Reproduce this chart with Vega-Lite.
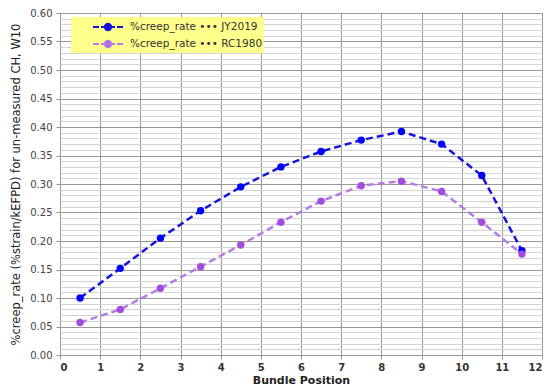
{
  "$schema": "https://vega.github.io/schema/vega-lite/v6.json",
  "width": 482,
  "height": 342,
  "autosize": "none",
  "padding": {"left": 60, "top": 13, "right": 8, "bottom": 35},
  "background": "white",
  "config": {
    "view": {"stroke": "#888", "strokeWidth": 1},
    "font": "DejaVu Sans"
  },
  "data": {
    "values": [
      {"pos": 0.5, "rate": 0.100, "series": "%creep_rate ••• JY2019"},
      {"pos": 1.5, "rate": 0.152, "series": "%creep_rate ••• JY2019"},
      {"pos": 2.5, "rate": 0.205, "series": "%creep_rate ••• JY2019"},
      {"pos": 3.5, "rate": 0.253, "series": "%creep_rate ••• JY2019"},
      {"pos": 4.5, "rate": 0.295, "series": "%creep_rate ••• JY2019"},
      {"pos": 5.5, "rate": 0.330, "series": "%creep_rate ••• JY2019"},
      {"pos": 6.5, "rate": 0.357, "series": "%creep_rate ••• JY2019"},
      {"pos": 7.5, "rate": 0.377, "series": "%creep_rate ••• JY2019"},
      {"pos": 8.5, "rate": 0.392, "series": "%creep_rate ••• JY2019"},
      {"pos": 9.5, "rate": 0.370, "series": "%creep_rate ••• JY2019"},
      {"pos": 10.5, "rate": 0.315, "series": "%creep_rate ••• JY2019"},
      {"pos": 11.5, "rate": 0.183, "series": "%creep_rate ••• JY2019"},
      {"pos": 0.5, "rate": 0.057, "series": "%creep_rate ••• RC1980"},
      {"pos": 1.5, "rate": 0.080, "series": "%creep_rate ••• RC1980"},
      {"pos": 2.5, "rate": 0.117, "series": "%creep_rate ••• RC1980"},
      {"pos": 3.5, "rate": 0.155, "series": "%creep_rate ••• RC1980"},
      {"pos": 4.5, "rate": 0.193, "series": "%creep_rate ••• RC1980"},
      {"pos": 5.5, "rate": 0.233, "series": "%creep_rate ••• RC1980"},
      {"pos": 6.5, "rate": 0.270, "series": "%creep_rate ••• RC1980"},
      {"pos": 7.5, "rate": 0.297, "series": "%creep_rate ••• RC1980"},
      {"pos": 8.5, "rate": 0.305, "series": "%creep_rate ••• RC1980"},
      {"pos": 9.5, "rate": 0.287, "series": "%creep_rate ••• RC1980"},
      {"pos": 10.5, "rate": 0.233, "series": "%creep_rate ••• RC1980"},
      {"pos": 11.5, "rate": 0.177, "series": "%creep_rate ••• RC1980"}
    ]
  },
  "encoding": {
    "x": {
      "field": "pos", "type": "quantitative",
      "scale": {"domain": [0, 12], "nice": false, "zero": false},
      "axis": {
        "values": [0,1,2,3,4,5,6,7,8,9,10,11,12],
        "title": "Bundle Position",
        "titleFontSize": 11, "titleFontWeight": "bold", "titleColor": "#222", "titlePadding": 2,
        "labelFontSize": 10, "labelFontWeight": "bold", "labelColor": "#333",
        "grid": true, "gridColor": "#999", "gridWidth": 1,
        "domain": false, "tickColor": "#999", "tickSize": 4, "labelPadding": 3
      }
    },
    "y": {
      "field": "rate", "type": "quantitative",
      "scale": {"domain": [0, 0.6], "nice": false},
      "axis": {
        "values": [0,0.01,0.02,0.03,0.04,0.05,0.06,0.07,0.08,0.09,0.1,0.11,0.12,0.13,0.14,0.15,0.16,0.17,0.18,0.19,0.2,0.21,0.22,0.23,0.24,0.25,0.26,0.27,0.28,0.29,0.3,0.31,0.32,0.33,0.34,0.35,0.36,0.37,0.38,0.39,0.4,0.41,0.42,0.43,0.44,0.45,0.46,0.47,0.48,0.49,0.5,0.51,0.52,0.53,0.54,0.55,0.56,0.57,0.58,0.59,0.6],
        "labelExpr": "round(datum.value*100) % 5 === 0 ? format(datum.value, '.2f') : ''",
        "title": "%creep_rate (%strain/kEFPD) for un-measured CH, W10",
        "titleFontSize": 11.5, "titleFontWeight": "normal", "titleColor": "#222", "titlePadding": 8,
        "labelFontSize": 10, "labelColor": "#444", "labelPadding": 4,
        "grid": true,
        "gridColor": {"condition": {"test": "round(datum.value*100) % 5 === 0", "value": "#999"}, "value": "#d4d4d4"},
        "tickOpacity": {"condition": {"test": "round(datum.value*100) % 5 === 0", "value": 1}, "value": 0},
        "domain": false, "tickColor": "#999", "tickSize": 4
      }
    },
    "color": {
      "field": "series", "type": "nominal",
      "scale": {"domain": ["%creep_rate ••• JY2019", "%creep_rate ••• RC1980"], "range": ["#1515e0", "#b57ce6"]},
      "legend": {
        "title": null, "orient": "none", "legendX": 11, "legendY": 4,
        "fillColor": "#ffff8c", "padding": 1, "rowPadding": 0,
        "labelFontSize": 10.5, "labelColor": "#333", "labelOffset": 40,
        "labelExpr": "datum.label + '     '",
        "symbolType": "M1.5,0H2.25M2.5,0H4.25M4.5,0H5.25M2.975,0A0.4,0.4 0 1,0 3.775,0A0.4,0.4 0 1,0 2.975,0Z",
        "symbolSize": 256, "symbolStrokeWidth": 2, "symbolOpacity": 1
      }
    }
  },
  "layer": [
    {
      "mark": {"type": "line", "strokeDash": [7, 4], "strokeWidth": 2.5}
    },
    {
      "mark": {"type": "point", "filled": true, "size": 55, "opacity": 1},
      "encoding": {
        "fill": {
          "field": "series", "type": "nominal",
          "scale": {"domain": ["%creep_rate ••• JY2019", "%creep_rate ••• RC1980"], "range": ["#0000ff", "#a64be0"]},
          "legend": null
        }
      }
    }
  ]
}
